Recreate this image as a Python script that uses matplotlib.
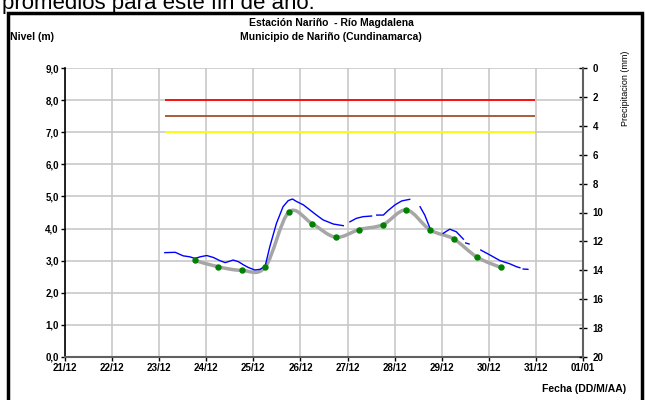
import numpy as np
import matplotlib.pyplot as plt
from matplotlib.path import Path
from matplotlib.patches import PathPatch, Rectangle

plt.rcParams['font.family'] = ['Liberation Sans', 'DejaVu Sans']

# eje x en dias desde el 21/12 00:00
fechas = ['21/12', '22/12', '23/12', '24/12', '25/12', '26/12', '27/12',
          '28/12', '29/12', '30/12', '31/12', '01/01']

# umbrales de alerta (m)
umbral_ini, umbral_fin = 2.12, 9.98
umbral_roja = 8.0
umbral_naranja = 7.5
umbral_amarilla = 7.0

# nivel registrado (NaN = sin dato)
nivel_dias = [2.12, 2.34, 2.51, 2.65, 2.76, 2.87, 3.01, 3.15, 3.29, 3.40, 3.47,
              3.57, 3.68, 3.79, 3.89, 4.03, 4.14, 4.25, 4.35, 4.49, 4.63, 4.74,
              4.83, 4.92, 5.06, 5.20, 5.34, 5.48, 5.70, 5.91, 5.98,
              6.05, 6.19, 6.33, 6.51, 6.56,
              6.62, 6.76, 6.86, 7.01, 7.15, 7.32, 7.43,
              7.54, 7.64, 7.75, 7.89,
              8.03, 8.17, 8.31, 8.46, 8.48,
              8.51, 8.58, 8.70,
              8.83, 9.02, 9.24, 9.45, 9.59, 9.66, 9.70,
              9.73, 9.83]
nivel_m = [3.25, 3.26, 3.15, 3.12, 3.07, 3.12, 3.16, 3.10, 3.00, 2.94, 2.97,
           3.02, 2.97, 2.87, 2.79, 2.71, 2.73, 2.83, 3.44, 4.16, 4.68, 4.87,
           4.92, 4.84, 4.74, 4.58, 4.42, 4.27, 4.14, 4.09, np.nan,
           4.21, 4.32, 4.37, 4.39, np.nan,
           4.42, 4.42, 4.56, 4.74, 4.86, 4.91, np.nan,
           4.68, 4.42, 4.01, np.nan,
           3.85, 3.98, 3.90, 3.67, np.nan,
           3.55, 3.52, np.nan,
           3.33, 3.18, 3.00, 2.90, 2.81, 2.78, np.nan,
           2.74, 2.73]

# nivel promedio (cada 12 h)
prom_dias = [2.75, 3.25, 3.75, 4.25, 4.75, 5.25, 5.75, 6.25, 6.75, 7.25,
             7.75, 8.25, 8.75, 9.25]
prom_m = [3.01, 2.81, 2.70, 2.80, 4.51, 4.15, 3.73, 3.97, 4.12, 4.58,
          3.96, 3.68, 3.11, 2.79]


def curva_suave(x, y):
    # linea suavizada tipo Excel con curvas de Bezier
    p = np.column_stack([x, y])
    verts = [p[0]]
    codes = [Path.MOVETO]
    for i in range(len(p) - 1):
        p0 = p[i - 1] if i > 0 else p[i]
        p3 = p[i + 2] if i + 2 < len(p) else p[i + 1]
        c1 = p[i] + (p[i + 1] - p0) / 6
        c2 = p[i + 1] - (p3 - p[i]) / 6
        verts += [c1, c2, p[i + 1]]
        codes += [Path.CURVE4] * 3
    return Path(verts, codes)


fig = plt.figure(figsize=(6.45, 4.0), dpi=100)
W, H = 645, 400
ax = fig.add_axes([65 / W, 1 - 357 / H, (583 - 65) / W, (357 - 68) / H])

ax.hlines(umbral_roja, umbral_ini, umbral_fin, color='#ff0000', lw=1.3, zorder=3)
ax.hlines(umbral_naranja, umbral_ini, umbral_fin, color='#a0522d', lw=1.3, zorder=3)
ax.hlines(umbral_amarilla, umbral_ini, umbral_fin, color='#ffff00', lw=1.3, zorder=3)

ax.add_patch(PathPatch(curva_suave(prom_dias, prom_m), facecolor='none',
                       edgecolor='#a6a6a6', lw=2.5, zorder=3))
ax.plot(nivel_dias, nivel_m, color='#0000ff', lw=1.0, zorder=4)
ax.plot(prom_dias, prom_m, 'o', color='#008000', ms=3.6, zorder=5)

ax.set_xlim(0, 11)
ax.set_ylim(0, 9)
ax.set_xticks(range(len(fechas)))
ax.set_xticklabels(fechas)
yt = np.arange(0, 10)
ax.set_yticks(yt)
ax.set_yticklabels([f'{v:.1f}'.replace('.', ',') for v in yt])
ax.grid(True, color='#c8c8c8', lw=1.2)
ax.set_axisbelow(True)
for lab in ax.get_xticklabels() + ax.get_yticklabels():
    lab.set_fontweight('bold')
    lab.set_fontsize(7)
ax.tick_params(axis='both', direction='out', length=3, width=1, pad=1.5)
ax.spines['top'].set_visible(False)
ax.spines['left'].set_color('black')
ax.spines['left'].set_linewidth(1.2)
ax.spines['bottom'].set_color('#606060')
ax.spines['bottom'].set_linewidth(1.5)
ax.spines['right'].set_visible(False)

ax2 = ax.twinx()
ax2.set_ylim(20, 0)
ax2.set_yticks(range(0, 21, 2))
ax2.tick_params(axis='y', direction='inout', length=6, width=1, pad=4,
                labelsize=7)
for lab in ax2.get_yticklabels():
    lab.set_fontweight('bold')
for s in ['top', 'left', 'bottom']:
    ax2.spines[s].set_visible(False)
ax2.spines['right'].set_color('#606060')
ax2.spines['right'].set_linewidth(1.5)

fig.text(331 / W, 1 - 23 / H, 'Estación Nariño  - Río Magdalena',
         ha='center', va='center', fontsize=7.5, fontweight='bold')
fig.text(331 / W, 1 - 37 / H, 'Municipio de Nariño (Cundinamarca)',
         ha='center', va='center', fontsize=7.5, fontweight='bold')
fig.text(10 / W, 1 - 37 / H, 'Nivel (m)', ha='left', va='center',
         fontsize=7.5, fontweight='bold')
fig.text(626 / W, 1 - 88 / H, 'Precipitacion (mm)', rotation=90,
         ha='center', va='center', fontsize=6.5)
fig.text(626 / W, 1 - 389 / H, 'Fecha (DD/M/AA)', ha='right', va='center',
         fontsize=7.5, fontweight='bold')

# texto del documento recortado arriba
fig.text(2 / W, 1 - 9 / H, 'promedios para este fin de año.', ha='left',
         va='baseline', fontsize=16)

# marco negro
fig.add_artist(Rectangle((8 / W, -0.05), (642 - 8) / W, 1.05 - 13 / H,
                         transform=fig.transFigure, facecolor='none',
                         edgecolor='black', lw=2.5))

fig.savefig('out.png', dpi=100)
